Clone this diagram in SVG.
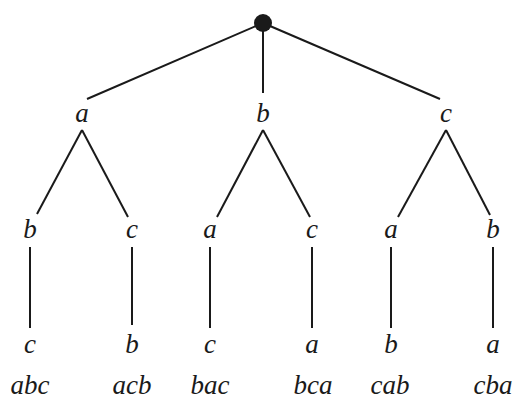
<svg xmlns="http://www.w3.org/2000/svg" width="527" height="402" viewBox="0 0 527 402">
  <style>
    .edge { stroke: #1a1a1a; stroke-width: 2; fill: none; stroke-linecap: butt; }
    .lbl { font-family: "Liberation Serif", "Times New Roman", serif; font-style: italic; font-size: 27px; fill: #1a1a1a; text-anchor: middle; }
  </style>
  <rect width="527" height="402" fill="#ffffff"/>

  <!-- connectors -->
  <g id="edges" class="edge">
    <!-- root to first letter -->
    <line x1="263" y1="23" x2="87" y2="99"/>
    <line x1="263" y1="23" x2="263" y2="93"/>
    <line x1="263" y1="23" x2="440" y2="99"/>
    <!-- first letter to second letter -->
    <line x1="82" y1="130" x2="37" y2="214"/>
    <line x1="82" y1="130" x2="128" y2="217"/>
    <line x1="263" y1="130" x2="217" y2="217"/>
    <line x1="263" y1="130" x2="310" y2="217"/>
    <line x1="446" y1="130" x2="398" y2="217"/>
    <line x1="446" y1="130" x2="490" y2="215"/>
    <!-- second letter to third letter -->
    <line x1="30" y1="247" x2="30" y2="328"/>
    <line x1="132" y1="247" x2="132" y2="325"/>
    <line x1="210" y1="247" x2="210" y2="328"/>
    <line x1="312" y1="247" x2="312" y2="328"/>
    <line x1="391" y1="247" x2="391" y2="328"/>
    <line x1="493" y1="247" x2="493" y2="328"/>
  </g>

  <!-- root -->
  <g id="root">
    <circle cx="263" cy="23" r="9" fill="#1a1a1a"/>
  </g>

  <!-- first letter -->
  <g id="n-a"><text class="lbl" x="82" y="122">a</text></g>
  <g id="n-b"><text class="lbl" x="263" y="122">b</text></g>
  <g id="n-c"><text class="lbl" x="446" y="122">c</text></g>

  <!-- second letter -->
  <g id="n-ab"><text class="lbl" x="30" y="238">b</text></g>
  <g id="n-ac"><text class="lbl" x="132" y="238">c</text></g>
  <g id="n-ba"><text class="lbl" x="210" y="238">a</text></g>
  <g id="n-bc"><text class="lbl" x="312" y="238">c</text></g>
  <g id="n-ca"><text class="lbl" x="391" y="238">a</text></g>
  <g id="n-cb"><text class="lbl" x="493" y="238">b</text></g>

  <!-- third letter -->
  <g id="n-abc"><text class="lbl" x="30" y="353">c</text></g>
  <g id="n-acb"><text class="lbl" x="132" y="353">b</text></g>
  <g id="n-bac"><text class="lbl" x="210" y="353">c</text></g>
  <g id="n-bca"><text class="lbl" x="312" y="353">a</text></g>
  <g id="n-cab"><text class="lbl" x="391" y="353">b</text></g>
  <g id="n-cba"><text class="lbl" x="493" y="353">a</text></g>

  <!-- resulting permutations -->
  <g id="perms">
    <text class="lbl" x="30" y="394">abc</text>
    <text class="lbl" x="132" y="394">acb</text>
    <text class="lbl" x="210" y="394">bac</text>
    <text class="lbl" x="313" y="394">bca</text>
    <text class="lbl" x="390" y="394">cab</text>
    <text class="lbl" x="493" y="394">cba</text>
  </g>
</svg>
